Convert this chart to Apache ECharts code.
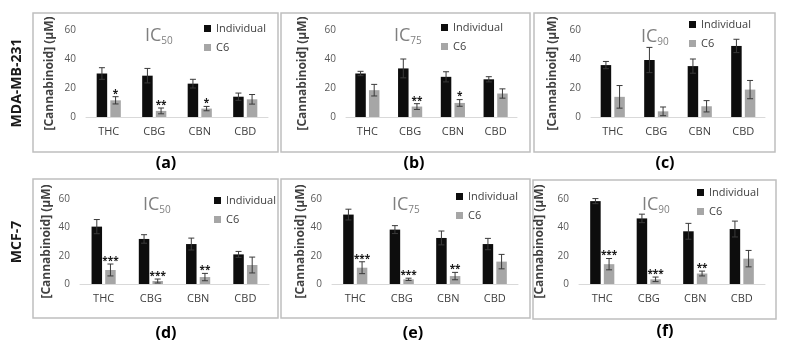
<!DOCTYPE html>
<html>
<head>
<meta charset="utf-8">
<script src="https://cdn.jsdelivr.net/npm/echarts@6/dist/echarts.min.js"></script>
<style>
  html, body { margin: 0; padding: 0; background: #fff; }
  #main { width: 787px; height: 351px; }
</style>
</head>
<body>
<div id="main"></div>
<script>
// 数据
var categories = ['THC', 'CBG', 'CBN', 'CBD'];
var legendNames = ['Individual', 'C6'];

// MDA-MB-231
var mdaIc50Ind = [30, 28.5, 23, 14];
var mdaIc50IndErr = [4, 5, 3, 2.5];
var mdaIc50C6 = [11.5, 4.2, 5.8, 12.2];
var mdaIc50C6Err = [2.5, 2, 1.5, 3.3];
var mdaIc50Sig = ['*', '**', '*', ''];

var mdaIc75Ind = [30, 33.5, 27.7, 26];
var mdaIc75IndErr = [1.5, 6.5, 3.5, 1.8];
var mdaIc75C6 = [18.5, 7.2, 9.7, 16.2];
var mdaIc75C6Err = [4, 2, 2.3, 3.2];
var mdaIc75Sig = ['', '**', '*', ''];

var mdaIc90Ind = [35.8, 39.3, 35.1, 49];
var mdaIc90IndErr = [2.5, 8.7, 4.9, 4.6];
var mdaIc90C6 = [13.9, 3.9, 7.4, 18.9];
var mdaIc90C6Err = [7.8, 3, 3.9, 6.3];
var mdaIc90Sig = ['', '', '', ''];

// MCF-7
var mcfIc50Ind = [40.5, 31.8, 28.2, 20.9];
var mcfIc50IndErr = [5, 3, 4.2, 2.1];
var mcfIc50C6 = [9.9, 2.1, 4.9, 13.4];
var mcfIc50C6Err = [4.2, 1.4, 2.6, 5.6];
var mcfIc50Sig = ['***', '***', '**', ''];

var mcfIc75Ind = [49, 38.4, 32.5, 28.2];
var mcfIc75IndErr = [3.8, 2.8, 4.9, 4];
var mcfIc75C6 = [11.5, 3.3, 5.6, 15.8];
var mcfIc75C6Err = [4.2, 0.8, 2.6, 5.1];
var mcfIc75Sig = ['***', '***', '**', ''];

var mcfIc90Ind = [58.5, 46.3, 37.2, 38.8];
var mcfIc90IndErr = [1.8, 3, 5.6, 5.6];
var mcfIc90C6 = [14, 3.3, 7.4, 17.9];
var mcfIc90C6Err = [4, 1.6, 1.7, 5.8];
var mcfIc90Sig = ['***', '***', '**', ''];

var rowLabels = ['MDA-MB-231', 'MCF-7'];
var panelLabels = ['(a)', '(b)', '(c)', '(d)', '(e)', '(f)'];

// 面板布局
var panels = [
  {ind: mdaIc50Ind, indErr: mdaIc50IndErr, c6: mdaIc50C6, c6Err: mdaIc50C6Err, sig: mdaIc50Sig, sub: '50',
   grid: {left: 86, top: 30, width: 182, height: 87}, gap: 30, title: [140, 21], legend: [204, 23], box: [33, 13, 245, 139], lab: [166, 163]},
  {ind: mdaIc75Ind, indErr: mdaIc75IndErr, c6: mdaIc75C6, c6Err: mdaIc75C6Err, sig: mdaIc75Sig, sub: '75',
   grid: {left: 346, top: 30, width: 171, height: 87}, gap: 37, title: [389, 21], legend: [441, 22], box: [281, 13, 249, 139], lab: [414, 163]},
  {ind: mdaIc90Ind, indErr: mdaIc90IndErr, c6: mdaIc90C6, c6Err: mdaIc90C6Err, sig: mdaIc90Sig, sub: '90',
   grid: {left: 591, top: 30, width: 174, height: 87}, gap: 32, title: [636, 22], legend: [689, 19], box: [534, 13, 241, 139], lab: [665, 163]},
  {ind: mcfIc50Ind, indErr: mcfIc50IndErr, c6: mcfIc50C6, c6Err: mcfIc50C6Err, sig: mcfIc50Sig, sub: '50',
   grid: {left: 80, top: 199, width: 189, height: 85}, gap: 27, title: [138, 190], legend: [214, 195], box: [33, 179, 245, 139], lab: [166, 333]},
  {ind: mcfIc75Ind, indErr: mcfIc75IndErr, c6: mcfIc75C6, c6Err: mcfIc75C6Err, sig: mcfIc75Sig, sub: '75',
   grid: {left: 332, top: 199, width: 186, height: 85}, gap: 24, title: [387, 190], legend: [456, 191], box: [281, 179, 249, 139], lab: [413, 333]},
  {ind: mcfIc90Ind, indErr: mcfIc90IndErr, c6: mcfIc90C6, c6Err: mcfIc90C6Err, sig: mcfIc90Sig, sub: '90',
   grid: {left: 579, top: 199, width: 186, height: 85}, gap: 33, title: [637, 190], legend: [697, 187], box: [533, 180, 243, 139], lab: [665, 331]}
];

var FONT = 'Open Sans';
var BAR_W = 10.5;
var textDark = '#404040';

// 误差线 + 显著性星号
function makeErrRender(p) {
  return function (params, api) {
    var i = params.dataIndex;
    var off = (BAR_W + BAR_W * 0.3) / 2;
    var children = [];
    [[1, 2, -off, ''], [3, 4, off, p.sig[i]]].forEach(function (s) {
      var v = api.value(s[0]), e = api.value(s[1]);
      var top = api.coord([i, v + e]);
      var bot = api.coord([i, v - e]);
      var x = top[0] + s[2];
      var st = {stroke: '#3a3a3a', lineWidth: 1};
      children.push({type: 'line', shape: {x1: x, y1: top[1], x2: x, y2: bot[1]}, style: st});
      children.push({type: 'line', shape: {x1: x - 3, y1: top[1], x2: x + 3, y2: top[1]}, style: st});
      children.push({type: 'line', shape: {x1: x - 3, y1: bot[1], x2: x + 3, y2: bot[1]}, style: st});
      if (s[3]) {
        children.push({type: 'text', x: x, y: top[1] - 3, style: {
          text: s[3], align: 'center', verticalAlign: 'middle',
          font: 'bold 10px "' + FONT + '"', fill: '#1a1a1a'
        }});
      }
    });
    return {type: 'group', children: children};
  };
}

var option = {
  backgroundColor: '#fff',
  animation: false,
  title: [], legend: [], grid: [], xAxis: [], yAxis: [], series: [], graphic: []
};

panels.forEach(function (p, k) {
  option.grid.push(p.grid);
  option.title.push({
    text: '{m|IC}{s|' + p.sub + '}',
    left: p.title[0], top: p.title[1],
    textStyle: {
      fontWeight: 'normal',
      rich: {
        m: {fontFamily: FONT, fontSize: 18, fontWeight: 'normal', color: '#7f7f7f', lineHeight: 20},
        s: {fontFamily: FONT, fontSize: 10, fontWeight: 'normal', color: '#7f7f7f', verticalAlign: 'bottom', lineHeight: 8}
      }
    }
  });
  option.legend.push({
    data: legendNames, orient: 'vertical', left: p.legend[0], top: p.legend[1],
    itemWidth: 7, itemHeight: 7, itemGap: 8, icon: 'rect', padding: 0,
    textStyle: {fontFamily: FONT, fontSize: 11, color: textDark}
  });
  option.xAxis.push({
    type: 'category', gridIndex: k, data: categories,
    axisTick: {show: false},
    axisLine: {lineStyle: {color: '#d9d9d9', width: 1}},
    axisLabel: {fontFamily: FONT, fontSize: 11, color: textDark, margin: 9}
  });
  option.yAxis.push({
    type: 'value', gridIndex: k, min: 0, max: 60, interval: 20,
    splitLine: {show: false}, axisLine: {show: false}, axisTick: {show: false},
    axisLabel: {fontFamily: FONT, fontSize: 10, color: '#595959', margin: 10},
    name: '[Cannabinoid] (μM)', nameLocation: 'middle', nameGap: p.gap,
    nameTextStyle: {fontFamily: FONT, fontSize: 12, fontWeight: 'bold', color: textDark}
  });
  option.series.push({
    name: 'Individual', type: 'bar', xAxisIndex: k, yAxisIndex: k,
    data: p.ind, barWidth: BAR_W, barGap: '30%', itemStyle: {color: '#0d0d0d'}
  });
  option.series.push({
    name: 'C6', type: 'bar', xAxisIndex: k, yAxisIndex: k,
    data: p.c6, barWidth: BAR_W, barGap: '30%', itemStyle: {color: '#a6a6a6'}
  });
  option.series.push({
    type: 'custom', xAxisIndex: k, yAxisIndex: k, z: 5, silent: true,
    renderItem: makeErrRender(p), encode: {x: 0, y: 1},
    data: categories.map(function (c, i) { return [i, p.ind[i], p.indErr[i], p.c6[i], p.c6Err[i]]; })
  });
  option.graphic.push({
    type: 'rect', shape: {x: p.box[0], y: p.box[1], width: p.box[2], height: p.box[3]},
    style: {fill: 'none', stroke: '#bfbfbf', lineWidth: 1.5}, z: -1
  });
  option.graphic.push({
    type: 'text', x: p.lab[0], y: p.lab[1],
    style: {text: panelLabels[k], align: 'center', verticalAlign: 'middle', font: 'bold 16px "' + FONT + '"', fill: '#000'}
  });
});

option.graphic.push({
  type: 'text', x: 17, y: 83, rotation: Math.PI / 2,
  style: {text: rowLabels[0], align: 'center', verticalAlign: 'middle', font: 'bold 14px "' + FONT + '"', fill: '#1a1a1a'}
});
option.graphic.push({
  type: 'text', x: 17, y: 242, rotation: Math.PI / 2,
  style: {text: rowLabels[1], align: 'center', verticalAlign: 'middle', font: 'bold 14px "' + FONT + '"', fill: '#1a1a1a'}
});

var myChart = echarts.init(document.getElementById('main'));
myChart.setOption(option);
</script>
</body>
</html>
